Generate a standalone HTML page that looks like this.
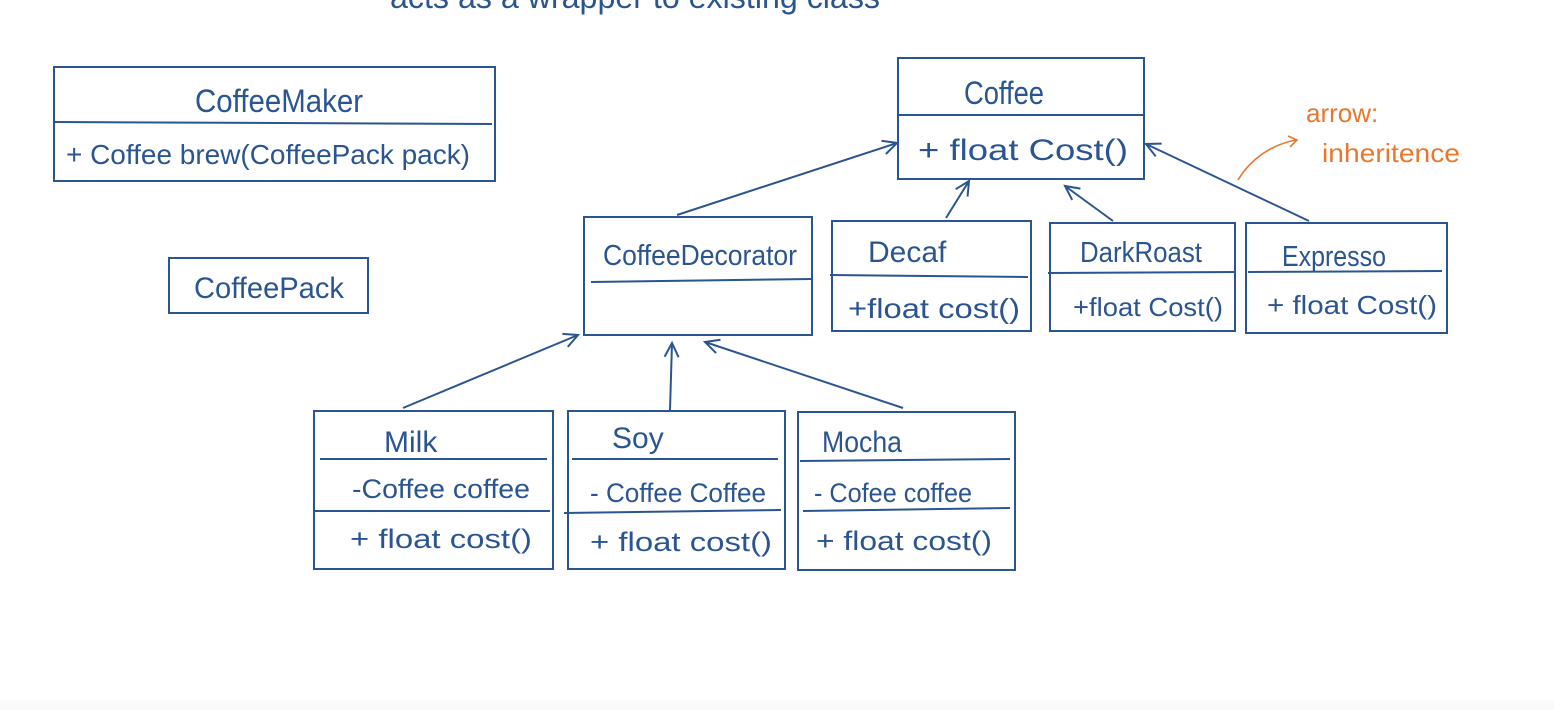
<!DOCTYPE html>
<html><head><meta charset="utf-8"><style>
html,body{margin:0;padding:0;background:#fff;}
svg{display:block;}
text{font-family:"Liberation Sans",sans-serif;fill:#2b5590;}
</style></head><body>
<svg width="1554" height="710" viewBox="0 0 1554 710" xmlns="http://www.w3.org/2000/svg">
<defs><marker id="a" markerWidth="20" markerHeight="20" refX="16" refY="8" orient="auto" markerUnits="userSpaceOnUse"><path d="M2,1 L16,8 L2,15" fill="none" stroke="#2b5590" stroke-width="2"/></marker></defs>
<rect x="0" y="700" width="1554" height="10" fill="#fafafa"/>
<text x="390" y="8" font-size="32" textLength="490" lengthAdjust="spacingAndGlyphs">acts as a wrapper  to existing class</text>
<g fill="none" stroke="#2b5590" stroke-width="2">
<rect x="54" y="67" width="441" height="114"/><line x1="54" y1="122" x2="492" y2="124"/>
<rect x="169" y="258" width="199" height="55"/>
<rect x="898" y="58" width="246" height="121"/><line x1="898" y1="115" x2="1144" y2="115"/>
<rect x="584" y="217" width="228" height="118"/><line x1="591" y1="282" x2="812" y2="279"/>
<rect x="832" y="221" width="199" height="110"/><line x1="830" y1="275" x2="1028" y2="277"/>
<rect x="1050" y="223" width="185" height="108"/><line x1="1048" y1="273" x2="1235" y2="272"/>
<rect x="1246" y="223" width="201" height="110"/><line x1="1248" y1="272" x2="1442" y2="271"/>
<rect x="314" y="411" width="239" height="158"/><line x1="320" y1="459" x2="547" y2="459"/><line x1="314" y1="511" x2="550" y2="511"/>
<rect x="568" y="411" width="217" height="158"/><line x1="572" y1="459" x2="778" y2="459"/><line x1="564" y1="513" x2="781" y2="510"/>
<rect x="798" y="412" width="217" height="158"/><line x1="800" y1="461" x2="1010" y2="459"/><line x1="803" y1="511" x2="1010" y2="508"/>
<g marker-end="url(#a)">
<line x1="677" y1="215" x2="897" y2="143"/>
<line x1="946" y1="218" x2="969" y2="181"/>
<line x1="1113" y1="221" x2="1065" y2="186"/>
<line x1="1309" y1="221" x2="1146" y2="144"/>
<line x1="403" y1="408" x2="578" y2="335"/>
<line x1="670" y1="410" x2="672" y2="343"/>
<line x1="903" y1="408" x2="705" y2="342"/>
</g>
</g>
<text x="195" y="112" font-size="32" textLength="168" lengthAdjust="spacingAndGlyphs">CoffeeMaker</text>
<text x="66" y="164" font-size="28" textLength="404" lengthAdjust="spacingAndGlyphs">+ Coffee brew(CoffeePack pack)</text>
<text x="194" y="298" font-size="30" textLength="150" lengthAdjust="spacingAndGlyphs">CoffeePack</text>
<text x="964" y="104" font-size="32" textLength="80" lengthAdjust="spacingAndGlyphs">Coffee</text>
<text x="918" y="160" font-size="30" textLength="210" lengthAdjust="spacingAndGlyphs">+ float  Cost()</text>
<text x="603" y="265" font-size="29" textLength="194" lengthAdjust="spacingAndGlyphs">CoffeeDecorator</text>
<text x="868" y="262" font-size="30">Decaf</text>
<text x="848" y="318" font-size="28" textLength="172" lengthAdjust="spacingAndGlyphs">+float cost()</text>
<text x="1080" y="262" font-size="29" textLength="122" lengthAdjust="spacingAndGlyphs">DarkRoast</text>
<text x="1073" y="316" font-size="26" textLength="150" lengthAdjust="spacingAndGlyphs">+float Cost()</text>
<text x="1282" y="266" font-size="29" textLength="104" lengthAdjust="spacingAndGlyphs">Expresso</text>
<text x="1267" y="314" font-size="26" textLength="170" lengthAdjust="spacingAndGlyphs">+ float Cost()</text>
<text x="384" y="452" font-size="30">Milk</text>
<text x="352" y="498" font-size="27" textLength="178" lengthAdjust="spacingAndGlyphs">-Coffee coffee</text>
<text x="350" y="548" font-size="27" textLength="182" lengthAdjust="spacingAndGlyphs">+ float cost()</text>
<text x="612" y="448" font-size="30">Soy</text>
<text x="590" y="502" font-size="27" textLength="176" lengthAdjust="spacingAndGlyphs">- Coffee Coffee</text>
<text x="590" y="551" font-size="27" textLength="182" lengthAdjust="spacingAndGlyphs">+ float cost()</text>
<text x="822" y="452" font-size="30" textLength="80" lengthAdjust="spacingAndGlyphs">Mocha</text>
<text x="814" y="502" font-size="27" textLength="158" lengthAdjust="spacingAndGlyphs">- Cofee coffee</text>
<text x="816" y="550" font-size="27" textLength="176" lengthAdjust="spacingAndGlyphs">+ float cost()</text>
<text x="1306" y="122" font-size="26" style="fill:#e8782e">arrow:</text>
<text x="1322" y="162" font-size="26" style="fill:#e8782e" textLength="138" lengthAdjust="spacingAndGlyphs">inheritence</text>
<path d="M1238,180 C1250,160 1270,145 1296,140 M1288,136 L1297,140 L1290,147" fill="none" stroke="#e8782e" stroke-width="1.6"/>
</svg>
</body></html>
